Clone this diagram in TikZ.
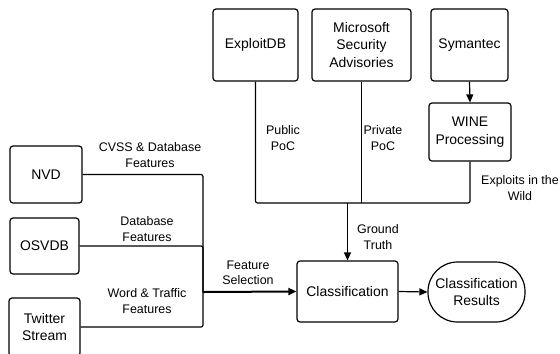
\documentclass[tikz,border=0pt]{standalone}
\usepackage{fontspec}
\setmainfont{Liberation Sans}
\usepackage{tikz}
\usetikzlibrary{arrows.meta,calc}

\begin{document}
\begin{tikzpicture}[x=1bp,y=-1bp,
    box/.style={draw, rounded corners=3bp, line width=1.2bp, align=center, inner sep=1bp, font=\fontsize{14}{17.5}\selectfont},
    lbl/.style={align=center, inner sep=0pt, font=\fontsize{12.5}{15.5}\selectfont},
    line/.style={line width=1.2bp, rounded corners=2bp},
    arrow/.style={line width=1.2bp, -{Triangle[length=8bp,width=7bp]}}]
    \useasboundingbox (0,0) rectangle (560,353);

    % sources on the left
    \node[box, minimum width=72bp, minimum height=57bp] (nvd) at (46,174.5) {NVD};
    \node[box, minimum width=69bp, minimum height=56bp] (osvdb) at (44.5,246) {OSVDB};
    \node[box, minimum width=71bp, minimum height=58bp] (twitter) at (44.5,327) {Twitter\\Stream};

    % ground truth sources on top
    \node[box, minimum width=85bp, minimum height=72bp] (exploitdb) at (255.5,45) {ExploitDB};
    \node[box, minimum width=99bp, minimum height=72bp] (msa) at (361.5,45) {Microsoft\\Security\\Advisories};
    \node[box, minimum width=77bp, minimum height=72bp] (symantec) at (469.5,45) {Symantec};
    \node[box, minimum width=82bp, minimum height=58bp] (wine) at (470,132) {WINE\\Processing};

    % classifier
    \node[box, minimum width=101bp, minimum height=61bp] (classif) at (347.5,291.5) {Classification};
    \node[box, rounded corners=29.5bp, minimum width=97bp, minimum height=60bp] (results) at (476.5,292) {Classification\\Results};

    \coordinate (fs) at (203,292);
    \coordinate (gt) at (347.5,203);

    \draw[line] (nvd.east) -| (fs);
    \draw[line] (osvdb.east) -| (fs);
    \draw[line] (twitter.east) -| (fs);
    \draw[arrow, line width=2bp] (fs) -- (classif.west);

    \draw[line] (exploitdb.south) |- (wine.south |- gt) -- (wine.south);
    \draw[line] (msa.south) -- (msa.south |- gt);
    \draw[arrow] (gt) -- (classif.north);
    \draw[arrow] (symantec.south) -- (wine.north);
    \draw[arrow] (classif.east) -- (results.west);

    % connector labels
    \node[lbl] (cvss) at (150,155) {CVSS \& Database\\Features};
    \node[lbl] (dbf) at (147,229) {Database\\Features};
    \node[lbl] (wtf) at (147,301) {Word \& Traffic\\Features};
    \node[lbl] (fsel) at (248,273) {Feature\\Selection};
    \node[lbl] (pub) at (283,138) {Public\\PoC};
    \node[lbl] (priv) at (383,138) {Private\\PoC};
    \node[lbl] (wild) at (520,188) {Exploits in the\\Wild};
    \node[lbl] (truth) at (378,237) {Ground\\Truth};
\end{tikzpicture}
\end{document}
